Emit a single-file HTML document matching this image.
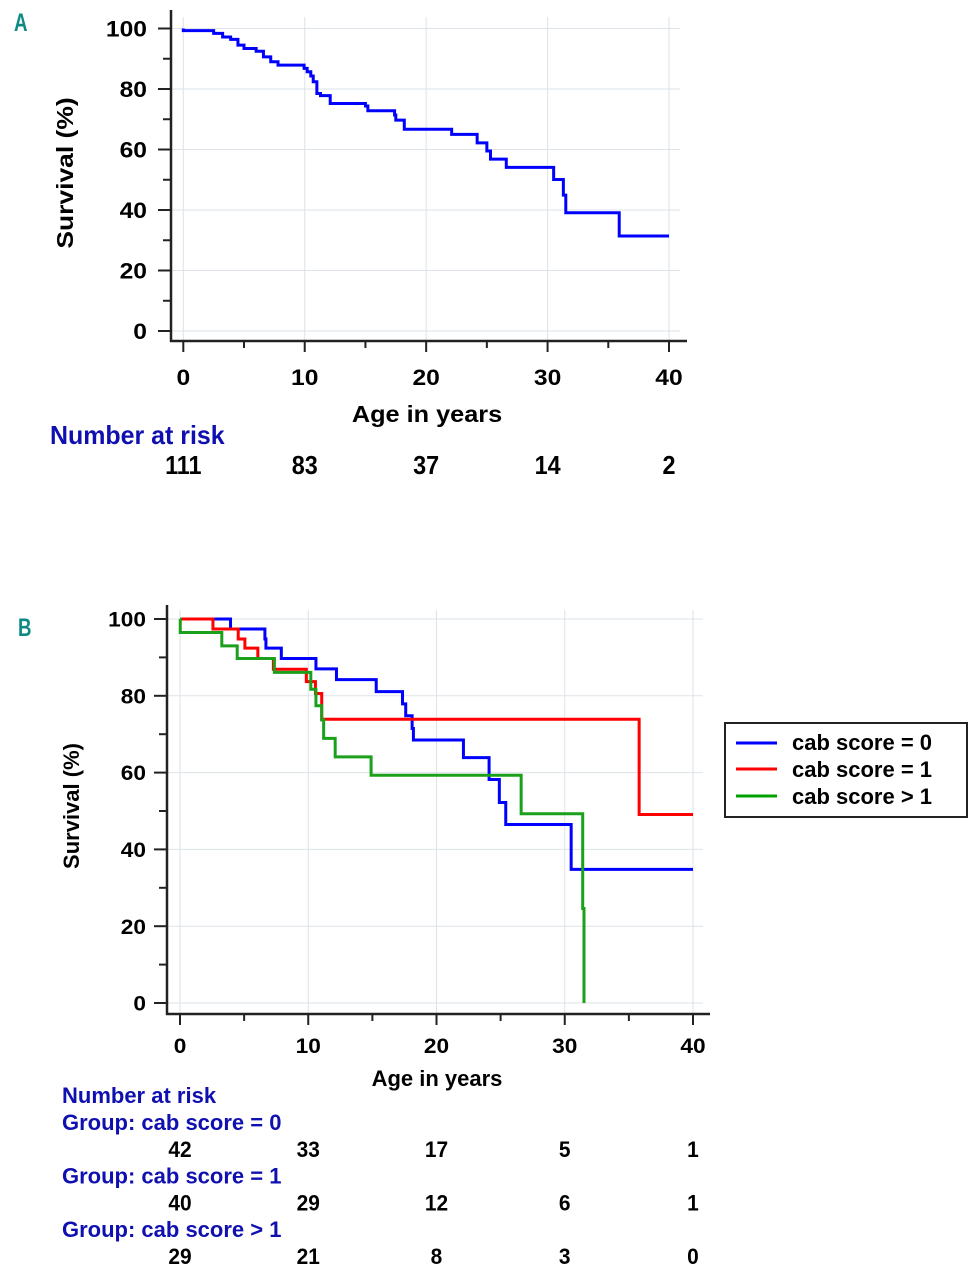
<!DOCTYPE html>
<html><head><meta charset="utf-8"><style>
html,body{margin:0;padding:0;background:#fff;}
svg{display:block;}
text{font-family:"Liberation Sans",sans-serif;font-weight:bold;}
</style></head><body>
<svg id="s" width="975" height="1280" viewBox="0 0 975 1280" xmlns="http://www.w3.org/2000/svg">
<rect width="975" height="1280" fill="#fff"/>
<text transform="translate(14,31) scale(0.75,1)" fill="#0e8a86" font-size="25">A</text>
<text transform="translate(18,636) scale(0.75,1)" fill="#0e8a86" font-size="25">B</text>
<g id="ga"></g>
<g id="gb"></g>
<g>
<rect x="725" y="723" width="242" height="94" fill="#fff" stroke="#222" stroke-width="2"/>
<line x1="736" y1="743" x2="777" y2="743" stroke="#0000ff" stroke-width="3"/>
<line x1="736" y1="769" x2="777" y2="769" stroke="#ff0000" stroke-width="3"/>
<line x1="736" y1="796" x2="777" y2="796" stroke="#00a000" stroke-width="3"/>
<text x="792" y="750" font-size="22">cab score = 0</text>
<text x="792" y="777" font-size="22">cab score = 1</text>
<text x="792" y="804" font-size="22">cab score &gt; 1</text>
</g>
</svg>
<script>
const xTicks=[0,10,20,30,40];
const yTicks=[0,20,40,60,80,100];
// Chart A
const aTimes=[0,2.5,3.24,3.9,4.5,5.0,6.0,6.6,7.2,7.8,9.95,10.2,10.5,10.7,11.0,11.3,12.1,15.0,15.2,17.4,17.5,18.2,22.1,24.2,25.0,25.3,26.6,30.5,31.3,31.5,35.9];
const aSurv=[99.3,98.4,97.2,96.4,94.5,93.4,92.5,90.6,89.0,87.9,86.8,85.7,84.3,82.4,78.5,77.8,75.2,74.4,72.8,71.4,69.7,66.7,65.0,62.2,59.5,56.8,54.1,50.1,44.9,39.1,31.4];
const aEnd=40;
const aRisk=[111,83,37,14,2];
// Chart B
const b0Times=[0,3.94,6.62,6.7,7.9,10.6,12.2,15.3,17.35,17.6,18.1,18.2,22.1,24.1,24.9,25.4,30.5];
const b0Surv=[100,97.4,94.8,92.4,89.7,87.0,84.2,81.1,77.9,74.8,71.5,68.5,63.9,58.2,52.2,46.5,34.8];
const b0End=40;
const b1Times=[0,2.57,4.54,5.06,6.07,7.28,9.85,10.56,11.05,35.8];
const b1Surv=[100,97.4,94.8,92.4,89.7,86.9,83.7,80.6,73.9,49.1];
const b1End=40;
const b2Times=[0,0.02,3.26,4.46,7.36,10.2,10.6,11.05,11.2,12.1,14.9,26.6,31.4,31.5];
const b2Surv=[100,96.5,93.0,89.7,86.1,81.7,77.4,73.7,68.9,64.1,59.3,49.3,24.6,0];
const b2End=31.5;
const bRiskLabels=["Group: cab score = 0","Group: cab score = 1","Group: cab score > 1"];
const bRisk0=[42,33,17,5,1];
const bRisk1=[40,29,12,6,1];
const bRisk2=[29,21,8,3,0];

const NS="http://www.w3.org/2000/svg";
function mk(p,tag,at,txt){const e=document.createElementNS(NS,tag);for(const k in at)e.setAttribute(k,at[k]);if(txt!==undefined)e.textContent=txt;p.appendChild(e);return e;}
function T(p,x,y,str,fs,sx,anchor,fill,rot){
  const tr=`translate(${x},${y})`+(rot?' rotate(-90)':'')+` scale(${sx},1)`;
  return mk(p,'text',{x:0,y:0,transform:tr,'font-size':fs,'text-anchor':anchor||'start',fill:fill||'#000'},str);
}

function chart(g,c){
  const X=t=>c.x0+(c.x1-c.x0)*t/40;
  const Yv=v=>c.y0+(c.y100-c.y0)*v/100;
  xTicks.forEach(t=>{const l=mk(g,'line',{x1:X(t),x2:X(t),y1:c.gTop,y2:c.axY,stroke:'#dde3e8','stroke-width':1});
    
    });
  yTicks.forEach(v=>{const l=mk(g,'line',{x1:c.axX,x2:c.gRight,y1:Yv(v),y2:Yv(v),stroke:'#dde3e8','stroke-width':1});
    
    });
  const ya=mk(g,'line',{x1:c.axX,x2:c.axX,y1:c.axTop,y2:c.axY+1,stroke:'#222','stroke-width':2.5});
  
  
  const xa=mk(g,'line',{x1:c.axX-1,x2:c.axRight,y1:c.axY,y2:c.axY,stroke:'#222','stroke-width':2.5});
  
  
  for(let t=0;t<=40;t+=5){mk(g,'line',{x1:X(t),x2:X(t),y1:c.axY,y2:c.axY+(t%10?7:11),stroke:'#222','stroke-width':2});}
  for(let v=0;v<=100;v+=10){mk(g,'line',{x1:c.axX-(v%20?8:13),x2:c.axX,y1:Yv(v),y2:Yv(v),stroke:'#222','stroke-width':2});}
  xTicks.forEach(t=>{const e=T(g,X(t),c.xlY,String(t),c.fs,c.sx,'middle');
    
    });
  yTicks.forEach(v=>{const e=T(g,c.ylX,Yv(v)+c.fs*0.36,String(v),c.fs,c.sx,'end');
    
    });
  const xt=T(g,c.xtX,c.xtY,'Age in years',c.tfs,c.tsx,'middle');
  
  
  const yt=T(g,c.ytX,c.ytY,'Survival (%)',c.tfs,c.ysx,'middle','#000',true);
  
  
  c.series.forEach(s=>{
    let d=`M${X(s.t[0])},${Yv(100)}`;
    for(let i=0;i<s.t.length;i++){d+=` L${X(s.t[i])},${Yv(i?s.s[i-1]:100)} L${X(s.t[i])},${Yv(s.s[i])}`;}
    d+=` L${X(s.end)},${Yv(s.s[s.s.length-1])}`;
    const p=mk(g,'path',{d:d,fill:'none',stroke:s.col,'stroke-width':c.sw});
    
    
  });
  return X;
}
const ga=document.getElementById('ga'),gb=document.getElementById('gb');
const XA=chart(ga,{x0:183.3,x1:669,y0:331,y100:28.5,axX:171,axY:341,axTop:10,axRight:687,gTop:17,gRight:680,fs:22,sx:1.12,tfs:23,tsx:1.1,ysx:1.15,xlY:385,xtX:427,xtY:422,ytX:73,ytY:173,ylX:147,sw:3,
  series:[{t:aTimes,s:aSurv,end:aEnd,col:'#0000ff',name:'survival-curve-all'}]});
const XB=chart(gb,{x0:180,x1:693,y0:1003,y100:619,axX:167,axY:1014,axTop:605,axRight:710,gTop:610,gRight:703,fs:21,sx:1.08,tfs:22,tsx:1.0,ysx:1.0,xlY:1053,xtX:437,xtY:1086,ytX:79,ytY:806,ylX:146,sw:3,
  series:[{t:b0Times,s:b0Surv,end:b0End,col:'#0000ff',name:'curve-cab-score-0'},{t:b1Times,s:b1Surv,end:b1End,col:'#ff0000',name:'curve-cab-score-1'},{t:b2Times,s:b2Surv,end:b2End,col:'#1aa01a',name:'curve-cab-score-gt1'}]});
const svg=document.getElementById('s');
let e=T(svg,50,444,'Number at risk',26,0.96,'start','#1010b0');


aRisk.forEach((v,i)=>{const t=T(svg,XA(xTicks[i]),474,String(v),26,0.9,'middle');
  
  });
e=T(svg,62,1103,'Number at risk',22,1.0,'start','#1010b0');


[bRisk0,bRisk1,bRisk2].forEach((row,r)=>{
  const gy=1130+r*53.5;
  const l=T(svg,62,gy,bRiskLabels[r],22,1.0,'start','#1010b0');
  
  
  row.forEach((v,i)=>{const t=T(svg,XB(xTicks[i]),gy+27,String(v),22,0.95,'middle');
    
    });
});
</script>
</body></html>
